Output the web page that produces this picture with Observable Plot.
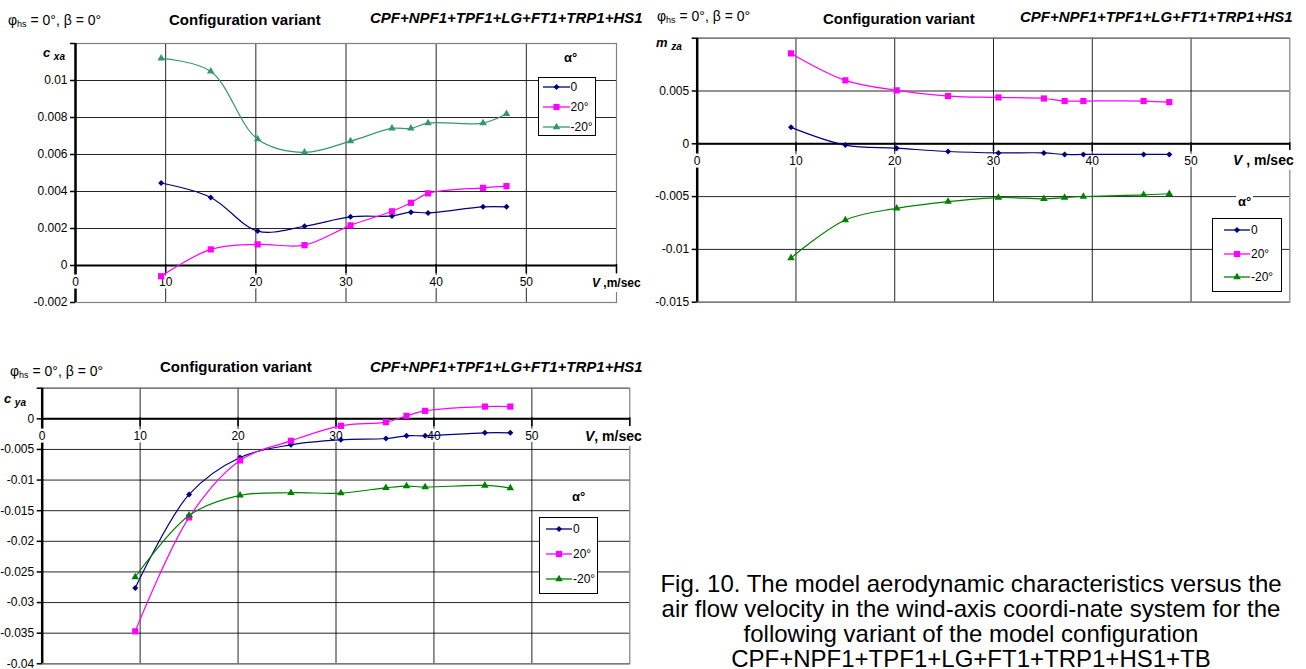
<!DOCTYPE html>
<html><head><meta charset="utf-8">
<script src="https://cdn.jsdelivr.net/npm/d3@7"></script>
<script src="https://cdn.jsdelivr.net/npm/@observablehq/plot@0.6"></script>
<style>
html,body{margin:0;padding:0;background:#fff;}
body{width:1306px;height:669px;overflow:hidden;position:relative;font-family:"Liberation Sans",Arial,Helvetica,sans-serif;color:#000;}
.abs{position:absolute;white-space:nowrap;line-height:1;transform:translateY(-50%);}
.hd{font-size:14px;}
.hd sub{font-size:9px;vertical-align:-2px;line-height:0;}
.cfg{font-size:15px;font-weight:bold;}
.cpf{font-size:15px;font-weight:bold;font-style:italic;}
.ylab{font-weight:bold;font-style:italic;font-size:13px;}
.ylab sub{font-size:10px;vertical-align:-3px;line-height:0;}
.xlab{font-weight:bold;background:#fff;padding:3px 2px;}
.xlab i{font-style:italic;}
.alpha{font-weight:bold;font-size:13px;padding:1px 2px;background:#fff;}
.legend{position:absolute;background:#fff;border:1px solid #000;box-sizing:border-box;}
.lrow{position:absolute;white-space:nowrap;display:flex;align-items:center;transform:translateY(-50%);font-size:12px;line-height:1;}
.lrow svg{display:block;overflow:visible;}
.caption{position:absolute;text-align:center;font-size:24px;line-height:25px;white-space:nowrap;}
svg.plot{position:absolute;}
</style></head><body>
<script>
// ---------- data ----------
const velocity = [9.5, 15, 20.2, 25.4, 30.5, 35.1, 37.2, 39.1, 45.2, 47.8];
const alphaLabels = ["0", "20°", "-20°"];

const cxaAlpha0   = [0.00446, 0.00368, 0.00186, 0.00212, 0.00263, 0.00268, 0.00288, 0.00284, 0.00317, 0.00317];
const cxaAlpha20  = [-0.00058, 0.00087, 0.00114, 0.0011, 0.00217, 0.00293, 0.00339, 0.0039, 0.0042, 0.00429];
const cxaAlphaM20 = [0.0112, 0.01049, 0.00683, 0.00612, 0.00672, 0.00741, 0.00741, 0.0077, 0.0077, 0.0082];

const mzaAlpha0   = [0.00156, -0.00012, -0.00041, -0.00073, -0.00086, -0.00086, -0.00101, -0.00101, -0.00101, -0.00101];
const mzaAlpha20  = [0.00856, 0.00601, 0.00506, 0.00452, 0.00439, 0.00429, 0.00405, 0.00405, 0.00405, 0.00395];
const mzaAlphaM20 = [-0.01081, -0.00722, -0.00611, -0.00547, -0.00509, -0.00521, -0.00509, -0.00499, -0.00483, -0.00473];

const cyaAlpha0   = [-0.02762, -0.01235, -0.00631, -0.00424, -0.00343, -0.00321, -0.00277, -0.00277, -0.00228, -0.00228];
const cyaAlpha20  = [-0.0347, -0.0161, -0.0068, -0.00359, -0.00114, -0.00054, 0.00049, 0.0013, 0.002, 0.002];
const cyaAlphaM20 = [-0.02583, -0.01577, -0.01251, -0.01207, -0.01212, -0.01126, -0.01098, -0.01114, -0.01088, -0.01131];

const xTickValues = [0, 10, 20, 30, 40, 50, 60];
const xTickLabels = ["0", "10", "20", "30", "40", "50", ""];
const xGridValues = [10, 20, 30, 40, 50];

const cxaTickValues = [-0.002, 0, 0.002, 0.004, 0.006, 0.008, 0.01, 0.012];
const cxaTickLabels = ["-0.002", "0", "0.002", "0.004", "0.006", "0.008", "0.01", ""];
const mzaTickValues = [-0.015, -0.01, -0.005, 0, 0.005, 0.01];
const mzaTickLabels = ["-0.015", "-0.01", "-0.005", "0", "0.005", ""];
const cyaTickValues = [-0.04, -0.035, -0.03, -0.025, -0.02, -0.015, -0.01, -0.005, 0, 0.005];
const cyaTickLabels = ["-0.04", "-0.035", "-0.03", "-0.025", "-0.02", "-0.015", "-0.01", "-0.005", "0", ""];

const headLeft = "φ<sub>hs</sub> = 0°, β = 0°";
const headMid = "Configuration variant";
const headRight = "CPF+NPF1+TPF1+LG+FT1+TRP1+HS1";
const legendTitle = "α°";
const captionLines = [
  "Fig. 10. The model aerodynamic characteristics versus the",
  "air flow velocity in the wind-axis coordi-nate system for the",
  "following variant of the model configuration",
  "CPF+NPF1+TPF1+LG+FT1+TRP1+HS1+TB"
];

// ---------- styles ----------
const FONT = '"Liberation Sans", Arial, Helvetica, sans-serif';
const seriesStyle = [
  {symbol: "diamond2", r: 2.7},
  {symbol: "square", r: 3.5},
  {symbol: "triangle", r: 2.8}
];

const panels = [
  {
    series: [cxaAlpha0, cxaAlpha20, cxaAlphaM20],
    colors: ["#000080", "#FF00FF", "#339966"],
    yTicks: cxaTickValues, yLabels: cxaTickLabels, yDomain: [-0.002, 0.012],
    box: {left: 0, top: 0, w: 660, h: 320, ml: 75, mr: 44, mt: 43, mb: 18},
    heads: [{x: 8, y: 19.5}, {x: 169, y: 19.2}, {x: 370, y: 17.2}],
    ylab: {html: "c <sub>xa</sub>", x: 43, y: 52},
    xlab: {html: "<i>V</i> ,m/sec", x: 590, y: 283, size: 12},
    alpha: {x: 562, y: 57},
    legend: {left: 538, top: 77, w: 58, h: 59, swX: 542.5, swW: 27, rows: [87, 107, 127]}
  },
  {
    series: [mzaAlpha0, mzaAlpha20, mzaAlphaM20],
    colors: ["#000080", "#FF00FF", "#008000"],
    yTicks: mzaTickValues, yLabels: mzaTickLabels, yDomain: [-0.015, 0.01],
    box: {left: 650, top: 0, w: 656, h: 320, ml: 46.7, mr: 16.7, mt: 37.7, mb: 18.3},
    heads: [{x: 657, y: 15.5}, {x: 823, y: 18}, {x: 1020, y: 16}],
    ylab: {html: "m <sub>za</sub>", x: 656, y: 42},
    xlab: {html: "<i>V</i> , m/sec", x: 1231, y: 160, size: 14},
    alpha: {x: 1236, y: 200.5},
    legend: {left: 1212, top: 218, w: 70, h: 74, swX: 1224, swW: 26, rows: [230, 254, 277]}
  },
  {
    series: [cyaAlpha0, cyaAlpha20, cyaAlphaM20],
    colors: ["#000080", "#FF00FF", "#008000"],
    yTicks: cyaTickValues, yLabels: cyaTickLabels, yDomain: [-0.04, 0.005],
    box: {left: 0, top: 350, w: 660, h: 319, ml: 41.7, mr: 30.7, mt: 37.7, mb: 5.7},
    heads: [{x: 10, y: 370.5}, {x: 160, y: 366}, {x: 370, y: 366}],
    ylab: {html: "c <sub>ya</sub>", x: 4, y: 398},
    xlab: {html: "<i>V</i>, m/sec", x: 583, y: 436, size: 14},
    alpha: {x: 570, y: 495.7},
    legend: {left: 539, top: 517, w: 59, h: 77, swX: 546, swW: 26, rows: [529.3, 554, 579.3]}
  }
];

function addDiv(cls, html, x, y, extra) {
  const d = document.createElement("div");
  d.className = cls;
  d.innerHTML = html;
  d.style.left = x + "px";
  d.style.top = y + "px";
  if (extra) Object.assign(d.style, extra);
  document.body.appendChild(d);
  return d;
}

function drawPanel(p) {
  const b = p.box;
  const rows = [];
  p.series.forEach((vals, s) => vals.forEach((val, i) => rows.push({s, v: velocity[i], val})));
  const yLabelOf = new Map(p.yTicks.map((t, i) => [t, p.yLabels[i]]));
  const xLabelOf = new Map(xTickValues.map((t, i) => [t, xTickLabels[i]]));

  const marks = [
    Plot.gridY(p.yTicks, {stroke: "#000", strokeOpacity: 0.85, strokeWidth: 1}),
    Plot.gridX(xGridValues, {stroke: "#000", strokeOpacity: 0.85, strokeWidth: 1}),
    Plot.frame({stroke: "#808080", strokeWidth: 1.2}),
    Plot.ruleX(xTickValues, {x: d => d, y1: () => 0, y2: () => 0, insetTop: -1, insetBottom: -8, stroke: "#000", strokeWidth: 1.5}),
    Plot.ruleY([0], {stroke: "#000", strokeWidth: 2}),
    Plot.ruleX([0], {stroke: "#000", strokeWidth: 2.5}),
    Plot.axisY(p.yTicks, {anchor: "left", label: null, tickSize: 5, tickPadding: 3, strokeWidth: 1.5, fontSize: 12, tickFormat: d => yLabelOf.get(d)}),
    Plot.text(xTickValues.filter(t => xLabelOf.get(t) !== ""), {
      x: d => d, y: () => 0, dy: 17, text: d => xLabelOf.get(d),
      fontSize: 12, fill: "#000", stroke: "#fff", strokeWidth: 5
    })
  ];
  p.series.forEach((vals, s) => {
    const data = rows.filter(d => d.s === s);
    marks.push(Plot.line(data, {x: "v", y: "val", stroke: p.colors[s], strokeWidth: 1.2, curve: "catmull-rom"}));
  });
  p.series.forEach((vals, s) => {
    const data = rows.filter(d => d.s === s);
    marks.push(Plot.dot(data, {x: "v", y: "val", symbol: seriesStyle[s].symbol, r: seriesStyle[s].r, fill: p.colors[s], stroke: "none"}));
  });

  const svg = Plot.plot({
    width: b.w, height: b.h,
    marginLeft: b.ml, marginRight: b.mr, marginTop: b.mt, marginBottom: b.mb,
    x: {domain: [0, 60], axis: null, label: null},
    y: {domain: p.yDomain, axis: null, label: null},
    style: {fontFamily: FONT, fontSize: "12px", color: "#000", background: "transparent", overflow: "visible"},
    marks
  });
  svg.classList.add("plot");
  svg.style.left = b.left + "px";
  svg.style.top = b.top + "px";
  document.body.appendChild(svg);

  addDiv("abs hd", headLeft, p.heads[0].x, p.heads[0].y);
  addDiv("abs cfg", headMid, p.heads[1].x, p.heads[1].y);
  addDiv("abs cpf", headRight, p.heads[2].x, p.heads[2].y);
  addDiv("abs ylab", p.ylab.html, p.ylab.x, p.ylab.y);
  addDiv("abs xlab", p.xlab.html, p.xlab.x, p.xlab.y, {fontSize: p.xlab.size + "px"});
  addDiv("abs alpha", legendTitle, p.alpha.x, p.alpha.y);

  const L = p.legend;
  const box = document.createElement("div");
  box.className = "legend";
  Object.assign(box.style, {left: L.left + "px", top: L.top + "px", width: L.w + "px", height: L.h + "px"});
  document.body.appendChild(box);
  const symMap = {diamond2: d3.symbolDiamond2, square: d3.symbolSquare, triangle: d3.symbolTriangle};
  alphaLabels.forEach((lab, s) => {
    const row = addDiv("lrow", "", L.swX, L.rows[s]);
    const sw = d3.create("svg").attr("width", L.swW).attr("height", 10);
    sw.append("line").attr("x1", 0).attr("x2", L.swW).attr("y1", 5).attr("y2", 5)
      .attr("stroke", p.colors[s]).attr("stroke-width", 1.3);
    const st = seriesStyle[s];
    sw.append("path").attr("transform", `translate(${L.swW / 2},5)`)
      .attr("d", d3.symbol(symMap[st.symbol], Math.PI * st.r * st.r)())
      .attr("fill", p.colors[s]);
    row.appendChild(sw.node());
    const t = document.createElement("span");
    t.textContent = lab;
    t.style.marginLeft = "1px";
    row.appendChild(t);
  });
}

panels.forEach(drawPanel);

captionLines.forEach((line, i) => {
  const d = document.createElement("div");
  d.className = "caption";
  d.textContent = line;
  d.style.top = (570.5 + i * 25) + "px";
  d.style.left = "571px";
  d.style.width = "800px";
  document.body.appendChild(d);
});
</script></body></html>
